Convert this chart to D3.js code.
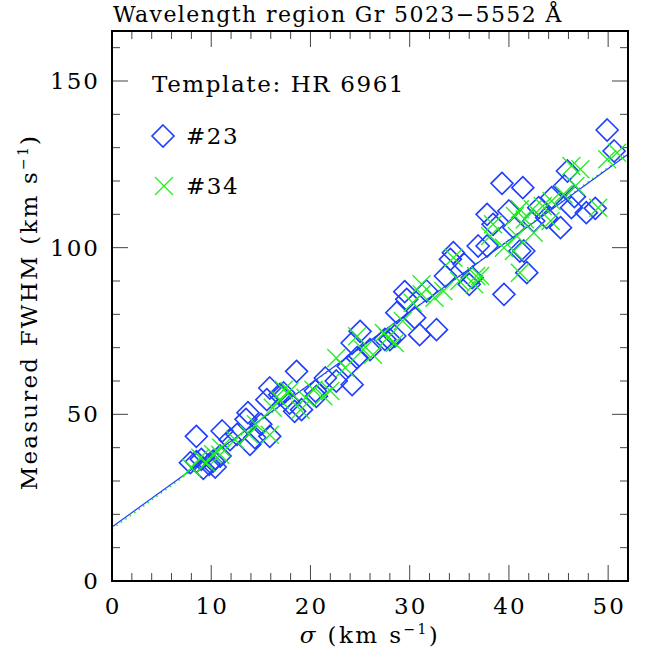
<!DOCTYPE html>
<html>
<head>
<meta charset="utf-8">
<script src="https://cdn.jsdelivr.net/npm/d3@7/dist/d3.min.js"></script>
<style>
  body { margin: 0; background: #fff; }
  text { font-family: "DejaVu Serif", serif; fill: #000; }
</style>
</head>
<body>
<div id="chart"></div>
<script>
var W = 648, H = 657;
var margin = { top: 31, right: 20, bottom: 76, left: 112 },
    width = W - margin.left - margin.right,
    height = H - margin.top - margin.bottom;

// template #23 (diamonds): [sigma, FWHM]
var star23 = [
  [8.5, 43.4], [8.5, 35.8], [7.9, 35.5], [9.2, 33.8], [9.0, 36.5], [9.8, 35.0],
  [10.2, 36.0], [10.4, 34.2], [10.9, 37.5], [11.1, 45.0], [11.9, 42.4], [12.6, 44.0],
  [13.5, 48.5], [13.7, 50.5], [13.9, 41.0], [14.4, 43.0], [15.0, 47.0], [15.6, 54.4],
  [15.9, 57.9], [15.9, 43.4], [16.9, 55.9], [17.3, 56.4], [17.9, 53.4], [18.4, 50.9],
  [18.6, 62.9], [19.1, 51.4], [20.5, 57.0], [20.6, 55.4], [21.5, 60.9], [22.6, 60.0],
  [23.8, 64.4], [24.2, 58.9], [24.2, 71.4], [24.7, 67.0], [25.0, 74.9], [26.0, 69.4],
  [27.5, 72.5], [28.0, 72.4], [28.5, 73.5], [28.7, 80.5], [29.5, 86.8], [29.7, 84.5],
  [30.5, 79.0], [31.0, 73.9], [31.7, 87.0], [32.7, 75.4], [33.6, 91.5], [34.1, 96.5],
  [34.4, 98.5], [35.5, 95.0], [36.3, 91.0], [36.0, 89.0], [36.9, 100.5], [37.8, 100.5],
  [37.8, 110.0], [38.4, 107.0], [39.3, 119.3], [39.5, 86.0], [40.0, 111.0], [40.5, 106.0],
  [41.1, 99.0], [41.4, 118.0], [41.5, 99.0], [41.8, 92.5], [42.5, 108.0], [43.0, 112.0],
  [43.8, 109.0], [44.3, 115.0], [45.2, 106.0], [45.6, 118.5], [45.9, 123.0], [46.3, 112.0],
  [46.6, 115.3], [47.8, 110.5], [48.7, 111.8], [49.9, 135.3], [50.6, 129.0]
];

// template #34 (crosses)
var star34 = [
  [8.0, 34.0], [8.9, 37.0], [9.5, 35.5], [10.2, 38.0], [10.9, 37.9], [11.0, 40.0],
  [12.4, 42.4], [13.8, 44.0], [14.5, 47.0], [15.9, 43.9], [16.2, 52.0], [16.9, 54.4],
  [17.3, 57.4], [17.9, 56.9], [19.0, 51.4], [19.5, 55.0], [20.3, 57.4], [21.3, 55.4],
  [22.0, 57.0], [22.6, 66.9], [23.5, 64.0], [24.7, 73.4], [25.3, 69.4], [26.3, 67.9],
  [27.4, 74.4], [27.8, 73.0], [28.5, 71.4], [29.3, 78.0], [30.3, 83.5], [31.2, 86.0],
  [31.2, 89.0], [32.5, 85.0], [33.4, 87.0], [34.4, 97.0], [35.0, 90.0], [36.5, 89.0],
  [36.7, 91.5], [37.1, 91.5], [38.1, 103.5], [38.4, 107.0], [39.5, 100.0], [40.5, 99.0],
  [40.6, 109.5], [40.8, 103.5], [41.1, 111.5], [41.1, 92.5], [41.6, 108.5], [42.4, 111.5],
  [42.5, 104.5], [43.4, 112.5], [44.2, 108.0], [44.3, 114.0], [45.5, 116.0], [46.3, 124.5],
  [46.7, 118.5], [47.2, 123.5], [49.0, 112.0], [49.9, 126.5], [50.9, 128.5]
];

// linear fits: [intercept, slope]
var fit23 = [16.2, 2.15];
var fit34 = [15.6, 2.17];

var xMajor = [0, 10, 20, 30, 40, 50];
var yMajor = [0, 50, 100, 150];

var blue = "#1f3fff", green = "#22ee22";

var svg = d3.select("#chart").append("svg")
    .attr("width", W)
    .attr("height", H);

var g = svg.append("g")
    .attr("transform", "translate(" + margin.left + "," + margin.top + ")");

var x = d3.scaleLinear().domain([0, 52]).range([0, width]);
var y = d3.scaleLinear().domain([0, 165]).range([height, 0]);

// minor + major ticks on all four sides
var xMinor = d3.range(0, 52.01, 2);
var yMinor = d3.range(0, 165.01, 10);

function tickLen(v, step) { return (Math.abs(v % step) < 1e-6) ? 16 : 8; }

var ticks = g.append("g").attr("stroke", "#444").attr("stroke-width", 1);
xMinor.forEach(function (v) {
  var L = tickLen(v, 10);
  ticks.append("line").attr("x1", x(v)).attr("x2", x(v)).attr("y1", height).attr("y2", height - L);
  ticks.append("line").attr("x1", x(v)).attr("x2", x(v)).attr("y1", 0).attr("y2", L);
});
yMinor.forEach(function (v) {
  var L = tickLen(v, 50);
  ticks.append("line").attr("y1", y(v)).attr("y2", y(v)).attr("x1", 0).attr("x2", L);
  ticks.append("line").attr("y1", y(v)).attr("y2", y(v)).attr("x1", width).attr("x2", width - L);
});

// tick labels
g.selectAll(".xl").data(xMajor).enter().append("text")
    .attr("x", function (d) { return x(d) + 1; })
    .attr("y", height + 33)
    .attr("text-anchor", "middle")
    .attr("font-size", 23)
    .attr("letter-spacing", 2)
    .text(function (d) { return d; });

g.selectAll(".yl").data(yMajor).enter().append("text")
    .attr("x", -12)
    .attr("y", function (d) { return y(d) + 8; })
    .attr("text-anchor", "end")
    .attr("font-size", 23)
    .attr("letter-spacing", 2)
    .text(function (d) { return d; });

// fit lines
var plot = g.append("g");
plot.append("line")
    .attr("x1", x(0)).attr("y1", y(fit34[0]))
    .attr("x2", x(52)).attr("y2", y(fit34[0] + fit34[1] * 52))
    .attr("stroke", green).attr("stroke-width", 1.5)
    .attr("stroke-dasharray", "1.5,4");
plot.append("line")
    .attr("x1", x(0)).attr("y1", y(fit23[0]))
    .attr("x2", x(52)).attr("y2", y(fit23[0] + fit23[1] * 52))
    .attr("stroke", blue).attr("stroke-width", 1.2);

// diamonds
var ds = 11;
function diamond(cx, cy, s) {
  return "M" + cx + "," + (cy - s) + "L" + (cx + s) + "," + cy +
         "L" + cx + "," + (cy + s) + "L" + (cx - s) + "," + cy + "Z";
}
function cross(cx, cy, s) {
  return "M" + (cx - s) + "," + (cy - s) + "L" + (cx + s) + "," + (cy + s) +
         "M" + (cx - s) + "," + (cy + s) + "L" + (cx + s) + "," + (cy - s);
}

plot.selectAll(".d23").data(star23).enter().append("path")
    .attr("d", function (d) { return diamond(x(d[0]), y(d[1]), ds); })
    .attr("fill", "none").attr("stroke", blue).attr("stroke-width", 1.6);

plot.selectAll(".d34").data(star34).enter().append("path")
    .attr("d", function (d) { return cross(x(d[0]), y(d[1]), 9); })
    .attr("fill", "none").attr("stroke", green).attr("stroke-width", 1.3);

// frame
g.append("rect")
    .attr("width", width).attr("height", height)
    .attr("fill", "none").attr("stroke", "#000").attr("stroke-width", 2);

// legend
g.append("text").attr("x", 40).attr("y", 61).attr("font-size", 23)
    .attr("letter-spacing", 1.6)
    .text("Template: HR 6961");
g.append("path").attr("d", diamond(51, 105, ds))
    .attr("fill", "none").attr("stroke", blue).attr("stroke-width", 1.6);
g.append("text").attr("x", 74).attr("y", 113).attr("font-size", 23)
    .attr("letter-spacing", 1.6).text("#23");
g.append("path").attr("d", cross(52, 155, 9))
    .attr("fill", "none").attr("stroke", green).attr("stroke-width", 1.3);
g.append("text").attr("x", 74).attr("y", 163).attr("font-size", 23)
    .attr("letter-spacing", 1.6).text("#34");

// title and axis labels
svg.append("text").attr("x", 113).attr("y", 22).attr("font-size", 22)
    .attr("letter-spacing", 1.4)
    .text("Wavelength region Gr 5023\u22125552 \u00c5");

var xl = svg.append("text")
    .attr("x", margin.left + x(26)).attr("y", 643)
    .attr("text-anchor", "middle").attr("font-size", 23)
    .attr("letter-spacing", 2.4);
xl.append("tspan").attr("font-style", "italic").text("\u03c3");
xl.append("tspan").text(" (km s");
xl.append("tspan").attr("font-size", 14).attr("dy", -9).text("\u22121");
xl.append("tspan").attr("dy", 9).text(")");

var yl = svg.append("text")
    .attr("transform", "translate(37," + (margin.top + height / 2 + 6) + ") rotate(-90)")
    .attr("text-anchor", "middle").attr("font-size", 23)
    .attr("letter-spacing", 2.2);
yl.append("tspan").text("Measured FWHM (km s");
yl.append("tspan").attr("font-size", 14).attr("dy", -9).text("\u22121");
yl.append("tspan").attr("dy", 9).text(")");
</script>
</body>
</html>
